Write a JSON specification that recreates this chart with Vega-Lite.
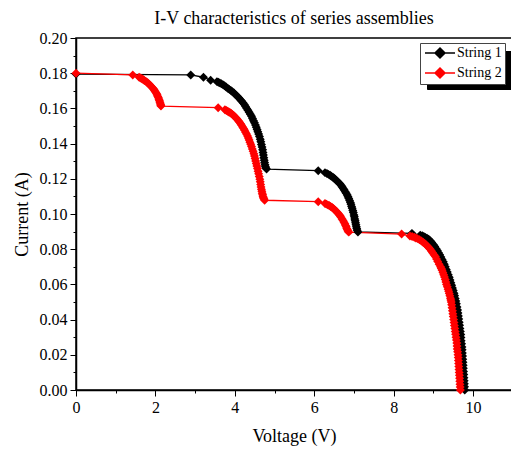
{
  "$schema": "https://vega.github.io/schema/vega-lite/v6.json",
  "width": 436,
  "height": 352,
  "autosize": "none",
  "padding": {"left": 76, "top": 38, "right": 0, "bottom": 59},
  "background": "white",
  "config": {
    "view": {"stroke": "black", "strokeWidth": 1.5},
    "font": "Liberation Serif",
    "axis": {"labelFont": "Liberation Serif", "labelFontSize": 16, "labelColor": "black", "labelPadding": 3, "labelFlush": false, "labelOverlap": false,
      "titleFont": "Liberation Serif", "titleFontSize": 18, "titleFontWeight": "normal", "titleColor": "black",
      "domainColor": "black", "domainWidth": 1.5, "tickColor": "black", "tickWidth": 1, "tickSize": 5, "grid": false}
  },
  "title": {"text": "I-V characteristics of series assemblies", "font": "Liberation Serif", "fontSize": 18, "fontWeight": "normal", "color": "black", "offset": 2, "anchor": "middle"},
  "datasets": {
    "iv": [
      {"s":"String 1","v":0,"i":0.1795},{"s":"String 1","v":2.89,"i":0.179},{"s":"String 1","v":3.21,"i":0.1777},{"s":"String 1","v":3.39,"i":0.176},
      {"s":"String 1","v":3.55,"i":0.1752},{"s":"String 1","v":3.585,"i":0.1749},{"s":"String 1","v":3.62,"i":0.1745},{"s":"String 1","v":3.66,"i":0.1740},{"s":"String 1","v":3.70,"i":0.1735},{"s":"String 1","v":3.74,"i":0.1729},{"s":"String 1","v":3.78,"i":0.1722},{"s":"String 1","v":3.82,"i":0.1715},{"s":"String 1","v":3.86,"i":0.1708},{"s":"String 1","v":3.90,"i":0.1702},{"s":"String 1","v":3.94,"i":0.1695},{"s":"String 1","v":3.98,"i":0.1687},{"s":"String 1","v":4.02,"i":0.1678},{"s":"String 1","v":4.06,"i":0.1669},{"s":"String 1","v":4.10,"i":0.1660},{"s":"String 1","v":4.135,"i":0.1651},{"s":"String 1","v":4.17,"i":0.1642},{"s":"String 1","v":4.205,"i":0.1632},{"s":"String 1","v":4.24,"i":0.1622},{"s":"String 1","v":4.27,"i":0.1611},{"s":"String 1","v":4.30,"i":0.1600},{"s":"String 1","v":4.33,"i":0.1589},{"s":"String 1","v":4.36,"i":0.1578},{"s":"String 1","v":4.39,"i":0.1567},{"s":"String 1","v":4.42,"i":0.1555},{"s":"String 1","v":4.445,"i":0.1543},{"s":"String 1","v":4.47,"i":0.1530},{"s":"String 1","v":4.495,"i":0.1518},{"s":"String 1","v":4.52,"i":0.1505},{"s":"String 1","v":4.54,"i":0.1493},{"s":"String 1","v":4.56,"i":0.1480},{"s":"String 1","v":4.58,"i":0.1468},{"s":"String 1","v":4.60,"i":0.1455},{"s":"String 1","v":4.62,"i":0.1440},{"s":"String 1","v":4.64,"i":0.1425},{"s":"String 1","v":4.655,"i":0.1410},{"s":"String 1","v":4.67,"i":0.1395},{"s":"String 1","v":4.685,"i":0.1380},{"s":"String 1","v":4.70,"i":0.1365},{"s":"String 1","v":4.71,"i":0.1350},{"s":"String 1","v":4.72,"i":0.1335},{"s":"String 1","v":4.73,"i":0.1320},{"s":"String 1","v":4.74,"i":0.1305},{"s":"String 1","v":4.75,"i":0.1292},{"s":"String 1","v":4.76,"i":0.1280},{"s":"String 1","v":4.77,"i":0.1270},{"s":"String 1","v":4.78,"i":0.1262},{"s":"String 1","v":4.80,"i":0.1255},
      {"s":"String 1","v":6.10,"i":0.1246},{"s":"String 1","v":6.27,"i":0.1235},{"s":"String 1","v":6.32,"i":0.1230},{"s":"String 1","v":6.36,"i":0.1225},{"s":"String 1","v":6.40,"i":0.1220},{"s":"String 1","v":6.43,"i":0.1215},{"s":"String 1","v":6.47,"i":0.1209},{"s":"String 1","v":6.50,"i":0.1203},{"s":"String 1","v":6.53,"i":0.1197},{"s":"String 1","v":6.56,"i":0.1190},{"s":"String 1","v":6.59,"i":0.1184},{"s":"String 1","v":6.62,"i":0.1177},{"s":"String 1","v":6.65,"i":0.1170},{"s":"String 1","v":6.68,"i":0.1162},{"s":"String 1","v":6.705,"i":0.1154},{"s":"String 1","v":6.73,"i":0.1145},{"s":"String 1","v":6.755,"i":0.1136},{"s":"String 1","v":6.78,"i":0.1127},{"s":"String 1","v":6.805,"i":0.1118},{"s":"String 1","v":6.83,"i":0.1108},{"s":"String 1","v":6.85,"i":0.1098},{"s":"String 1","v":6.87,"i":0.1088},{"s":"String 1","v":6.89,"i":0.1077},{"s":"String 1","v":6.91,"i":0.1066},{"s":"String 1","v":6.925,"i":0.1055},{"s":"String 1","v":6.94,"i":0.1043},{"s":"String 1","v":6.955,"i":0.1032},{"s":"String 1","v":6.97,"i":0.1020},{"s":"String 1","v":6.985,"i":0.1008},{"s":"String 1","v":7.00,"i":0.0995},{"s":"String 1","v":7.01,"i":0.0984},{"s":"String 1","v":7.02,"i":0.0972},{"s":"String 1","v":7.03,"i":0.0961},{"s":"String 1","v":7.04,"i":0.0950},{"s":"String 1","v":7.05,"i":0.0939},{"s":"String 1","v":7.06,"i":0.0928},{"s":"String 1","v":7.07,"i":0.0918},{"s":"String 1","v":7.08,"i":0.0908},{"s":"String 1","v":7.10,"i":0.0898},
      {"s":"String 1","v":8.46,"i":0.0890},{"s":"String 1","v":8.67,"i":0.0880},{"s":"String 1","v":8.72,"i":0.0876},{"s":"String 1","v":8.76,"i":0.0872},{"s":"String 1","v":8.80,"i":0.0867},{"s":"String 1","v":8.84,"i":0.0862},{"s":"String 1","v":8.88,"i":0.0856},{"s":"String 1","v":8.92,"i":0.0848},{"s":"String 1","v":8.96,"i":0.0838},{"s":"String 1","v":9.00,"i":0.0826},{"s":"String 1","v":9.035,"i":0.0815},{"s":"String 1","v":9.07,"i":0.0803},{"s":"String 1","v":9.10,"i":0.0792},{"s":"String 1","v":9.13,"i":0.0780},{"s":"String 1","v":9.16,"i":0.0768},{"s":"String 1","v":9.19,"i":0.0755},{"s":"String 1","v":9.22,"i":0.0742},{"s":"String 1","v":9.25,"i":0.0728},{"s":"String 1","v":9.275,"i":0.0714},{"s":"String 1","v":9.30,"i":0.0700},{"s":"String 1","v":9.325,"i":0.0685},{"s":"String 1","v":9.35,"i":0.0670},{"s":"String 1","v":9.375,"i":0.0655},{"s":"String 1","v":9.40,"i":0.0640},{"s":"String 1","v":9.42,"i":0.0625},{"s":"String 1","v":9.44,"i":0.0610},{"s":"String 1","v":9.46,"i":0.0595},{"s":"String 1","v":9.48,"i":0.0580},{"s":"String 1","v":9.50,"i":0.0565},{"s":"String 1","v":9.52,"i":0.0550},{"s":"String 1","v":9.535,"i":0.0535},{"s":"String 1","v":9.55,"i":0.0520},{"s":"String 1","v":9.565,"i":0.0505},{"s":"String 1","v":9.58,"i":0.0490},{"s":"String 1","v":9.595,"i":0.0472},{"s":"String 1","v":9.61,"i":0.0455},{"s":"String 1","v":9.62,"i":0.0438},{"s":"String 1","v":9.63,"i":0.0420},{"s":"String 1","v":9.64,"i":0.0403},{"s":"String 1","v":9.65,"i":0.0385},{"s":"String 1","v":9.66,"i":0.0368},{"s":"String 1","v":9.67,"i":0.0350},{"s":"String 1","v":9.68,"i":0.0333},{"s":"String 1","v":9.69,"i":0.0315},{"s":"String 1","v":9.695,"i":0.0298},{"s":"String 1","v":9.70,"i":0.0280},{"s":"String 1","v":9.71,"i":0.0263},{"s":"String 1","v":9.72,"i":0.0245},{"s":"String 1","v":9.725,"i":0.0228},{"s":"String 1","v":9.73,"i":0.0210},{"s":"String 1","v":9.735,"i":0.0193},{"s":"String 1","v":9.74,"i":0.0175},{"s":"String 1","v":9.745,"i":0.0158},{"s":"String 1","v":9.75,"i":0.0140},{"s":"String 1","v":9.755,"i":0.0123},{"s":"String 1","v":9.76,"i":0.0105},{"s":"String 1","v":9.765,"i":0.0088},{"s":"String 1","v":9.77,"i":0.0070},{"s":"String 1","v":9.775,"i":0.0053},{"s":"String 1","v":9.78,"i":0.0035},{"s":"String 1","v":9.785,"i":0.0018},{"s":"String 1","v":9.79,"i":0.0},
      {"s":"String 2","v":0,"i":0.18},{"s":"String 2","v":1.43,"i":0.179},{"s":"String 2","v":1.59,"i":0.1777},{"s":"String 2","v":1.625,"i":0.1773},{"s":"String 2","v":1.66,"i":0.1768},{"s":"String 2","v":1.69,"i":0.1764},{"s":"String 2","v":1.72,"i":0.1759},{"s":"String 2","v":1.75,"i":0.1755},{"s":"String 2","v":1.78,"i":0.1750},{"s":"String 2","v":1.81,"i":0.1744},{"s":"String 2","v":1.84,"i":0.1738},{"s":"String 2","v":1.865,"i":0.1732},{"s":"String 2","v":1.89,"i":0.1726},{"s":"String 2","v":1.92,"i":0.1719},{"s":"String 2","v":1.95,"i":0.1712},{"s":"String 2","v":1.97,"i":0.1705},{"s":"String 2","v":1.99,"i":0.1698},{"s":"String 2","v":2.01,"i":0.1691},{"s":"String 2","v":2.03,"i":0.1683},{"s":"String 2","v":2.045,"i":0.1676},{"s":"String 2","v":2.06,"i":0.1668},{"s":"String 2","v":2.075,"i":0.1660},{"s":"String 2","v":2.09,"i":0.1652},{"s":"String 2","v":2.10,"i":0.1645},{"s":"String 2","v":2.11,"i":0.1637},{"s":"String 2","v":2.12,"i":0.1630},{"s":"String 2","v":2.13,"i":0.1623},{"s":"String 2","v":2.135,"i":0.1618},{"s":"String 2","v":2.14,"i":0.1613},
      {"s":"String 2","v":3.58,"i":0.1604},{"s":"String 2","v":3.75,"i":0.1592},{"s":"String 2","v":3.785,"i":0.1588},{"s":"String 2","v":3.82,"i":0.1584},{"s":"String 2","v":3.85,"i":0.1580},{"s":"String 2","v":3.88,"i":0.1576},{"s":"String 2","v":3.91,"i":0.1571},{"s":"String 2","v":3.94,"i":0.1566},{"s":"String 2","v":3.97,"i":0.1560},{"s":"String 2","v":4.00,"i":0.1553},{"s":"String 2","v":4.03,"i":0.1546},{"s":"String 2","v":4.06,"i":0.1538},{"s":"String 2","v":4.09,"i":0.1530},{"s":"String 2","v":4.12,"i":0.1521},{"s":"String 2","v":4.145,"i":0.1513},{"s":"String 2","v":4.17,"i":0.1504},{"s":"String 2","v":4.195,"i":0.1495},{"s":"String 2","v":4.22,"i":0.1486},{"s":"String 2","v":4.245,"i":0.1476},{"s":"String 2","v":4.27,"i":0.1465},{"s":"String 2","v":4.295,"i":0.1454},{"s":"String 2","v":4.32,"i":0.1443},{"s":"String 2","v":4.34,"i":0.1432},{"s":"String 2","v":4.36,"i":0.1420},{"s":"String 2","v":4.38,"i":0.1408},{"s":"String 2","v":4.40,"i":0.1396},{"s":"String 2","v":4.42,"i":0.1383},{"s":"String 2","v":4.44,"i":0.1370},{"s":"String 2","v":4.46,"i":0.1357},{"s":"String 2","v":4.48,"i":0.1343},{"s":"String 2","v":4.495,"i":0.1329},{"s":"String 2","v":4.51,"i":0.1315},{"s":"String 2","v":4.525,"i":0.1301},{"s":"String 2","v":4.54,"i":0.1287},{"s":"String 2","v":4.555,"i":0.1273},{"s":"String 2","v":4.57,"i":0.1258},{"s":"String 2","v":4.585,"i":0.1243},{"s":"String 2","v":4.60,"i":0.1228},{"s":"String 2","v":4.615,"i":0.1213},{"s":"String 2","v":4.63,"i":0.1198},{"s":"String 2","v":4.64,"i":0.1183},{"s":"String 2","v":4.65,"i":0.1168},{"s":"String 2","v":4.66,"i":0.1154},{"s":"String 2","v":4.67,"i":0.1140},{"s":"String 2","v":4.68,"i":0.1129},{"s":"String 2","v":4.69,"i":0.1118},{"s":"String 2","v":4.70,"i":0.1109},{"s":"String 2","v":4.71,"i":0.1100},{"s":"String 2","v":4.72,"i":0.1093},{"s":"String 2","v":4.73,"i":0.1087},{"s":"String 2","v":4.75,"i":0.1078},
      {"s":"String 2","v":6.10,"i":0.1070},{"s":"String 2","v":6.27,"i":0.1060},{"s":"String 2","v":6.305,"i":0.1056},{"s":"String 2","v":6.34,"i":0.1052},{"s":"String 2","v":6.375,"i":0.1048},{"s":"String 2","v":6.41,"i":0.1043},{"s":"String 2","v":6.445,"i":0.1038},{"s":"String 2","v":6.48,"i":0.1032},{"s":"String 2","v":6.51,"i":0.1025},{"s":"String 2","v":6.54,"i":0.1018},{"s":"String 2","v":6.57,"i":0.1011},{"s":"String 2","v":6.60,"i":0.1004},{"s":"String 2","v":6.625,"i":0.0997},{"s":"String 2","v":6.65,"i":0.0990},{"s":"String 2","v":6.675,"i":0.0981},{"s":"String 2","v":6.70,"i":0.0972},{"s":"String 2","v":6.725,"i":0.0963},{"s":"String 2","v":6.75,"i":0.0953},{"s":"String 2","v":6.77,"i":0.0944},{"s":"String 2","v":6.79,"i":0.0935},{"s":"String 2","v":6.805,"i":0.0927},{"s":"String 2","v":6.82,"i":0.0918},{"s":"String 2","v":6.835,"i":0.0910},{"s":"String 2","v":6.85,"i":0.0903},{"s":"String 2","v":6.87,"i":0.0897},
      {"s":"String 2","v":8.20,"i":0.0886},{"s":"String 2","v":8.41,"i":0.0875},{"s":"String 2","v":8.465,"i":0.0872},{"s":"String 2","v":8.52,"i":0.0868},{"s":"String 2","v":8.56,"i":0.0864},{"s":"String 2","v":8.60,"i":0.0860},{"s":"String 2","v":8.65,"i":0.0854},{"s":"String 2","v":8.70,"i":0.0847},{"s":"String 2","v":8.74,"i":0.0840},{"s":"String 2","v":8.78,"i":0.0833},{"s":"String 2","v":8.815,"i":0.0825},{"s":"String 2","v":8.85,"i":0.0817},{"s":"String 2","v":8.885,"i":0.0809},{"s":"String 2","v":8.92,"i":0.0800},{"s":"String 2","v":8.95,"i":0.0790},{"s":"String 2","v":8.98,"i":0.0780},{"s":"String 2","v":9.015,"i":0.0769},{"s":"String 2","v":9.05,"i":0.0758},{"s":"String 2","v":9.08,"i":0.0744},{"s":"String 2","v":9.11,"i":0.0730},{"s":"String 2","v":9.145,"i":0.0715},{"s":"String 2","v":9.18,"i":0.0700},{"s":"String 2","v":9.20,"i":0.0690},{"s":"String 2","v":9.22,"i":0.0680},{"s":"String 2","v":9.24,"i":0.0668},{"s":"String 2","v":9.26,"i":0.0655},{"s":"String 2","v":9.28,"i":0.0642},{"s":"String 2","v":9.30,"i":0.0628},{"s":"String 2","v":9.315,"i":0.0614},{"s":"String 2","v":9.33,"i":0.0600},{"s":"String 2","v":9.35,"i":0.0587},{"s":"String 2","v":9.37,"i":0.0573},{"s":"String 2","v":9.385,"i":0.0561},{"s":"String 2","v":9.40,"i":0.0549},{"s":"String 2","v":9.415,"i":0.0536},{"s":"String 2","v":9.43,"i":0.0522},{"s":"String 2","v":9.44,"i":0.0511},{"s":"String 2","v":9.45,"i":0.0500},{"s":"String 2","v":9.46,"i":0.0484},{"s":"String 2","v":9.47,"i":0.0467},{"s":"String 2","v":9.48,"i":0.0450},{"s":"String 2","v":9.49,"i":0.0433},{"s":"String 2","v":9.50,"i":0.0417},{"s":"String 2","v":9.51,"i":0.0400},{"s":"String 2","v":9.52,"i":0.0384},{"s":"String 2","v":9.53,"i":0.0367},{"s":"String 2","v":9.54,"i":0.0350},{"s":"String 2","v":9.55,"i":0.0333},{"s":"String 2","v":9.56,"i":0.0317},{"s":"String 2","v":9.57,"i":0.0300},{"s":"String 2","v":9.58,"i":0.0284},{"s":"String 2","v":9.59,"i":0.0267},{"s":"String 2","v":9.595,"i":0.0250},{"s":"String 2","v":9.60,"i":0.0233},{"s":"String 2","v":9.61,"i":0.0217},{"s":"String 2","v":9.62,"i":0.0200},{"s":"String 2","v":9.625,"i":0.0184},{"s":"String 2","v":9.63,"i":0.0167},{"s":"String 2","v":9.635,"i":0.0150},{"s":"String 2","v":9.64,"i":0.0133},{"s":"String 2","v":9.645,"i":0.0117},{"s":"String 2","v":9.65,"i":0.0100},{"s":"String 2","v":9.655,"i":0.0084},{"s":"String 2","v":9.66,"i":0.0067},{"s":"String 2","v":9.665,"i":0.0050},{"s":"String 2","v":9.67,"i":0.0033},{"s":"String 2","v":9.675,"i":0.0017},{"s":"String 2","v":9.68,"i":0.0}
    ]
  },
  "data": {"name": "iv"},
  "encoding": {
    "x": {"field": "v", "type": "quantitative", "scale": {"domain": [0, 10.98], "nice": false, "zero": false},
      "axis": {"title": "Voltage (V)", "values": [0,1,2,3,4,5,6,7,8,9,10], "format": "d", "labelOverlap": false,
        "labelExpr": "test(/^(0|2|4|6|8|10)$/, datum.label) ? datum.label : ''", "titlePadding": 12,
        "tickSize": {"condition": {"test": "datum.value % 2 == 0", "value": 6}, "value": 3}}},
    "y": {"field": "i", "type": "quantitative", "scale": {"domain": [0, 0.2], "nice": false},
      "axis": {"title": "Current (A)", "values": [0,0.01,0.02,0.03,0.04,0.05,0.06,0.07,0.08,0.09,0.1,0.11,0.12,0.13,0.14,0.15,0.16,0.17,0.18,0.19,0.2], "format": ".2f", "labelOverlap": false,
        "labelExpr": "test(/[02468]$/, datum.label) ? datum.label : ''", "titlePadding": 8,
        "tickSize": {"condition": {"test": "test(/[02468]$/, format(datum.value, '.2f'))", "value": 6}, "value": 3}}}
  },
  "layer": [
    {
      "mark": {"type": "line", "strokeWidth": 1.3},
      "encoding": {
        "color": {"field": "s", "type": "nominal", "scale": {"domain": ["String 1", "String 2"], "range": ["black", "red"]},
          "legend": {"orient": "none", "legendX": 344, "legendY": 5, "title": null, "zindex": 2,
            "symbolType": "M-3,0H3M0,-1L1,0L0,1L-1,0Z", "symbolSize": 100, "symbolStrokeWidth": 1.5,
            "labelFont": "Liberation Serif", "labelFontSize": 14, "labelColor": "black",
            "padding": 3, "rowPadding": 4, "symbolOffset": 10, "labelOffset": 10,
            "strokeColor": "#444", "fillColor": "white",
            "encode": {"symbols": {"update": {"fill": {"scale": "color", "field": "value"}, "stroke": {"scale": "color", "field": "value"}}}}}}
      }
    },
    {
      "mark": {"type": "point", "opacity": 0},
      "encoding": {
        "shape": {"field": "s", "type": "nominal", "scale": {"range": ["square", "square"]},
          "legend": {"orient": "none", "legendX": 351, "legendY": 13, "title": null, "zindex": 1,
            "symbolSize": 196, "symbolStrokeWidth": 0,
            "symbolFillColor": "black", "symbolStrokeColor": "black",
            "labelExpr": "''", "labelFontSize": 14,
            "padding": 3, "rowPadding": 4, "labelOffset": 64,
            "strokeColor": "black", "fillColor": "black"}}
      }
    },
    {
      "mark": {"type": "point", "shape": "diamond", "filled": true, "size": 80, "opacity": 1},
      "encoding": {
        "color": {"field": "s", "type": "nominal"}
      }
    }
  ]
}
